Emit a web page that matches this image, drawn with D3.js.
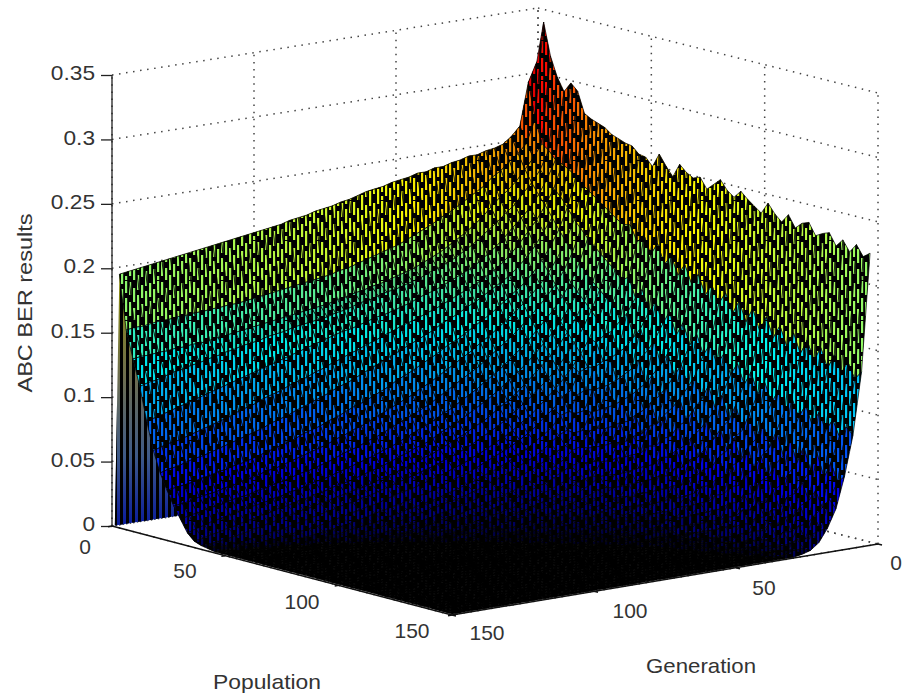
<!DOCTYPE html>
<html><head><meta charset="utf-8">
<script src="https://cdn.jsdelivr.net/npm/d3@7"></script>
<style>html,body{margin:0;padding:0;background:#fff}svg{display:block}text{font-family:"Liberation Sans",Arial,sans-serif;fill:#333}</style>
</head><body><div id="c"></div>
<script>
const populations=d3.range(2,150,3);
const generations=d3.range(2,150,3);
const zTicks=[0,0.05,0.1,0.15,0.2,0.25,0.3,0.35];
const zTickLabels=["0","0.05","0.1","0.15","0.2","0.25","0.3","0.35"];
const popTicks=[0,50,100,150];
const genTicks=[0,50,100,150];
const axisNames=["Population","Generation","ABC BER results"];
// BER in thousandths, one row per population, one column per generation; omitted trailing cells read as 0
const ber=[
[310,295,262,255,250,248,247,245,245,243,242,240,240,238,238,236,235,234,232,231,230,228,226,225,223,222,221,219,218,217,215,214,213,212,211,210,209,208,207,206,205,204,203,202,201,200,199,198,197,196],
[342,268,250,243,238,232,228,222,218,214,210,206,203,199,196,193,190,187,185,183,181,179,177,175,174,172,171,170,169,168,167,166,165,164,163,162,161,161,160,160,159,159,158,158,157,157,156,155,155,154],
[317,250,240,232,224,218,213,207,200,195,190,186,182,178,175,172,169,167,165,163,161,160,158,157,155,154,152,151,150,149,148,147,146,145,144,143,142,141,140,139,138,137,137,136,136,135,135,134,134,133],
[302,246,232,223,216,208,203,197,192,187,182,178,174,171,168,166,163,161,159,157,156,154,152,151,149,147,146,144,143,142,141,140,138,137,136,134,133,132,130,129,127,126,124,123,121,120,118,116,115,113],
[292,240,226,215,206,199,193,186,180,175,170,166,163,160,157,154,152,150,147,145,143,141,140,138,136,134,133,131,129,127,125,123,121,119,117,115,113,111,109,107,105,103,101,99,97,95,93,91,89,88],
[300,238,220,208,198,190,182,175,169,164,160,156,153,150,147,144,141,139,136,134,132,129,127,124,122,119,117,114,112,109,107,104,102,100,97,95,93,90,88,86,83,81,79,77,75,73,71,70,68,66],
[295,235,215,200,190,180,172,166,160,156,152,148,144,141,137,134,131,127,124,121,118,115,112,109,106,103,100,97,95,92,89,87,84,82,79,77,75,72,70,68,66,64,62,60,58,57,55,53,52,50],
[279,231,208,192,180,170,162,155,150,145,140,135,131,127,123,119,116,112,108,105,101,98,95,91,88,85,82,80,77,74,72,69,67,65,62,60,58,56,54,52,50,49,47,46,44,43,41,40,39,38],
[276,226,200,184,172,162,154,147,141,135,130,125,120,116,111,107,103,99,95,91,88,84,81,78,75,72,69,66,64,61,59,56,54,52,50,48,46,44,43,41,39,38,36,35,33,32,31,29,28,27],
[274,222,194,177,164,154,146,139,132,126,120,115,110,105,100,96,92,88,84,80,76,73,70,67,64,61,58,56,53,51,49,46,44,42,40,39,37,35,34,32,31,29,28,27,25,24,23,21,20,18],
[272,218,188,170,156,146,137,130,123,116,110,105,99,94,90,85,81,77,73,70,66,63,60,57,54,51,49,46,44,42,40,38,36,34,33,31,29,28,26,25,23,22,21,19,18,16,15,13,11,9],
[268,214,183,164,150,139,129,121,114,107,101,95,90,85,80,76,72,68,64,61,58,54,51,49,46,44,41,39,37,35,33,31,30,28,26,25,23,22,20,19,17,16,14,13,11,10,8,7,5,4],
[266,210,178,158,144,132,122,113,106,99,93,87,81,76,72,67,63,60,56,53,50,47,44,42,39,37,35,33,31,29,27,26,24,23,21,20,18,17,15,14,12,11,9,8,6,5,4,3,2,2],
[264,206,173,153,138,125,115,106,98,91,85,79,74,69,64,60,56,53,49,46,43,41,38,36,34,32,30,28,26,24,22,21,19,18,16,15,13,12,10,9,7,6,5,4,3,2,2,1,1,1],
[263,203,169,148,132,119,108,99,91,84,78,72,66,62,57,53,50,46,43,40,37,35,32,30,28,26,24,23,21,19,17,16,14,13,11,10,8,7,6,5,4,3,2,2,1,1,1],
[258,204,162,147,122,117,99,96,83,79,71,66,60,55,51,47,44,41,38,35,32,30,28,25,23,21,20,18,16,15,13,12,10,9,7,6,5,4,3,2,2,1,1,1],
[257,192,166,133,126,104,100,84,81,69,67,59,54,50,45,42,38,35,32,30,27,25,23,21,19,17,16,14,13,11,10,8,7,6,5,4,3,2,2,1,1],
[251,199,151,140,111,107,86,85,70,69,57,54,49,44,40,37,34,31,28,26,23,21,19,17,16,14,13,11,10,8,7,6,5,4,3,2,2,1,1],
[262,185,159,123,116,92,89,71,70,57,56,47,44,40,36,33,30,27,24,22,20,18,16,14,13,11,10,8,7,6,5,4,3,2,2,1,1],
[254,195,143,131,101,97,75,74,59,58,47,45,39,35,32,29,26,23,21,19,17,15,13,12,10,9,8,6,5,4,3,2,2,1,1],
[247,180,152,115,109,82,80,61,60,47,47,37,35,32,28,25,23,20,18,16,14,12,11,9,8,7,6,5,4,3,2,2,1,1],
[258,188,136,124,92,88,65,65,50,49,38,38,32,28,25,22,20,17,15,13,12,10,9,8,6,5,4,3,3,2,1,1],
[253,174,147,107,100,74,71,52,52,39,39,29,28,25,22,19,17,15,13,11,10,8,7,6,5,4,3,2,2,1,1],
[250,184,130,117,85,81,58,57,42,42,30,30,25,22,19,17,15,13,11,9,8,7,6,4,4,3,2,2,1,1],
[252,170,141,101,93,66,65,45,45,32,32,23,22,19,17,15,13,11,9,8,6,5,4,3,3,2,1,1],
[244,179,125,111,79,74,51,52,36,35,24,24,20,17,15,13,11,9,8,6,5,4,3,2,2,1,1],
[249,164,135,95,87,59,58,39,39,27,27,18,18,15,13,11,9,8,6,5,4,3,2,2,1,1],
[254,173,120,105,71,68,45,46,30,30,19,20,16,13,11,9,8,6,5,4,3,2,2,1,1],
[247,160,130,88,81,54,52,33,34,22,23,14,14,11,9,8,6,5,4,3,2,2,1,1],
[243,170,115,100,67,62,40,40,25,26,15,16,12,10,8,6,5,4,3,2,2,1,1],
[249,155,125,83,75,48,47,28,29,18,18,11,10,8,7,5,4,3,2,2,1,1],
[244,166,110,95,62,56,36,35,21,22,12,12,9,7,5,4,3,2,2,1,1],
[240,151,120,77,71,43,42,25,24,16,14,8,8,6,4,3,2,2,1,1],
[236,163,105,90,56,52,31,31,18,18,10,10,6,5,3,2,2,1,1],
[245,147,116,72,67,38,38,21,21,12,12,6,5,4,3,2,1,1],
[238,159,100,86,51,48,27,27,15,15,7,8,4,3,2,1,1],
[233,144,111,68,62,34,34,18,18,9,10,4,3,2,2,1,1],
[240,155,96,82,47,44,23,24,12,12,5,5,3,2,1,1],
[231,140,107,64,58,30,31,15,15,7,7,3,2,2,1],
[236,152,93,78,43,41,20,21,9,10,3,4,2,1,1],
[238,137,104,60,54,26,28,12,12,4,5,2,2,1],
[229,149,90,74,40,37,17,18,7,7,2,3,1,1],
[232,134,101,57,50,23,24,9,10,3,3,2,1],
[234,146,87,71,36,34,13,16,4,5,2,1,1],
[225,131,98,54,46,20,21,6,6,2,2,1],
[231,143,85,68,33,30,11,12,3,3,1,1],
[223,130,95,51,42,17,17,4,4,1,1],
[230,140,83,64,30,25,8,9,2,2,1],
[222,128,92,50,38,15,13,3,3,1],
[226,135,87,56,32,18,8,3,1]
];
const berUnit=0.001, zMax=0.34;

const W=902,H=697;
const svg=d3.select("#c").append("svg").attr("width",W).attr("height",H).attr("viewBox",[0,0,W,H]);
const defs=svg.append("defs");

const pS=d3.scaleLinear().domain([0,150]).range([0,1]);
const gS=d3.scaleLinear().domain([0,150]).range([0,1]);
const zS=d3.scaleLinear().domain([0,0.35]).range([0,451]);
const cD=[538,459],cA=[112,526],cC=[878,544],cB=[452,615];
function proj(p,g,z){
  const u=pS(p),v=gS(g);
  const x=(1-u)*(1-v)*cD[0]+(1-u)*v*cA[0]+u*(1-v)*cC[0]+u*v*cB[0];
  const y=(1-u)*(1-v)*cD[1]+(1-u)*v*cA[1]+u*(1-v)*cC[1]+u*v*cB[1];
  return [x,y-zS(z)];
}
const jet=d3.scaleLinear().domain([0,.125,.375,.625,.875,1].map(d=>d*zMax))
  .range(["#00008f","#0000ff","#00ffff","#ffff00","#ff0000","#800000"]).clamp(true);
const line=d3.line();

// dotted grid on the back walls and floor
const grid=svg.append("g").attr("fill","none").attr("stroke","#444").attr("stroke-width",1.5)
  .attr("stroke-dasharray","1.5 5.6");
const seg=(a,b)=>grid.append("path").attr("d",line([a,b]));
zTicks.forEach(z=>{seg(proj(0,150,z),proj(0,0,z));seg(proj(0,0,z),proj(150,0,z));});
genTicks.forEach(g=>{seg(proj(0,g,0),proj(0,g,.35));seg(proj(0,g,0),proj(150,g,0));});
popTicks.forEach(p=>{seg(proj(p,0,0),proj(p,0,.35));seg(proj(p,0,0),proj(p,150,0));});

// patterns standing in for the dense mesh lines
const slots=[[1,[[2,15],[22,36]]],[5,[[8,22],[28,40]]],[9,[[0,10],[15,30],[35,40]]],[13,[[5,18],[24,37]]],
  [17,[[0,6],[11,26],[31,40]]],[21,[[3,17],[21,34]]],[25,[[0,4],[9,23],[29,40]]],[29,[[1,13],[18,32],[36,40]]]];
const slotPath=slots.flatMap(([x,segs])=>segs.map(([a,b])=>`M${x} ${a}V${b}H${x+2.2}V${a}Z`)).join("");
const bars=defs.append("pattern").attr("id","bars").attr("patternUnits","userSpaceOnUse")
  .attr("width",32).attr("height",40);
bars.append("path").attr("fill","#000").attr("fill-rule","evenodd").attr("d","M0 0H32V40H0Z"+slotPath);
const wb=defs.append("pattern").attr("id","wallbars").attr("patternUnits","userSpaceOnUse")
  .attr("width",6).attr("height",10);
wb.append("rect").attr("x",0).attr("width",3).attr("height",10).attr("fill","#000");
const wg=defs.append("linearGradient").attr("id","wallgrad").attr("gradientUnits","userSpaceOnUse")
  .attr("x1",0).attr("x2",0).attr("y1",280).attr("y2",525);
[[0,"#8c8c10"],[.4,"#6e6e50"],[.72,"#3e5a88"],[1,"#0a1c9c"]].forEach(s=>
  wg.append("stop").attr("offset",s[0]).attr("stop-color",s[1]));

// rear wall between the zero column and the first population
const firstRow=ber[0];
const wallPts=generations.map((g,j)=>proj(populations[0],g,firstRow[j]*berUnit))
  .concat(generations.slice().reverse().map(g=>proj(0,g,0)));
const wall=line(wallPts)+"Z";
svg.append("path").attr("d",wall).attr("fill","url(#wallgrad)");
svg.append("path").attr("d",wall).attr("fill","url(#wallbars)");

// surface cells
const zAt=(i,j)=>((ber[i][j]??0)*berUnit);
const cells=[];
for(let i=0;i<populations.length-1;i++)for(let j=0;j<generations.length-1;j++){
  const corners=[[i,j],[i+1,j],[i+1,j+1],[i,j+1]];
  const pts=corners.map(([a,b])=>proj(populations[a],generations[b],zAt(a,b)));
  const zm=d3.mean(corners,([a,b])=>zAt(a,b));
  const fine=Math.abs(d3.polygonArea(pts))/9;
  const cov=Math.max(0,Math.min(1,(fine-3.2)/(fine-1.2)));
  const c=d3.rgb(jet(zm));
  cells.push({pts,fill:d3.rgb(c.r*cov,c.g*cov,c.b*cov).formatHex()});
}
svg.append("g").selectAll("path").data(cells).join("path")
  .attr("d",d=>line(d.pts)+"Z").attr("fill",d=>d.fill)
  .attr("stroke","#000").attr("stroke-width",0.7);
svg.append("path").attr("d",cells.map(d=>line(d.pts)+"Z").join(""))
  .attr("fill","url(#bars)").attr("fill-rule","nonzero");

// text is slightly stretched in the reference
const fitLen=(sel,len)=>sel.attr("textLength",len).attr("lengthAdjust","spacingAndGlyphs");
const stretch=(sel,k)=>sel.each(function(){
  d3.select(this).call(fitLen,this.getComputedTextLength()*k);});

// axes
const zAxisScale=d3.scaleLinear().domain([0,0.35]).range([cA[1],cA[1]-451]);
const zAxis=d3.axisLeft(zAxisScale).tickValues(zTicks).tickSize(11).tickPadding(6)
  .tickFormat((d,i)=>zTickLabels[i]);
const zg=svg.append("g").attr("transform",`translate(${cA[0]},0)`).call(zAxis);
zg.selectAll("path,line").attr("stroke","#222").attr("stroke-width",1.3);
zg.select(".domain").attr("d",`M0,${cA[1]}V${cA[1]-451}`);
zg.selectAll("text").attr("font-size",21).attr("fill","#333").attr("font-family","Liberation Sans")
  .attr("dy","0.22em").call(stretch,1.08);

const ax=svg.append("g").attr("stroke","#111").attr("stroke-width",1.5).attr("fill","none");
ax.append("path").attr("d",line([cA,cB]));
ax.append("path").attr("d",line([cB,cC]));
popTicks.forEach(p=>{const a=proj(p,150,0);ax.append("path").attr("d",line([a,[a[0]-4,a[1]+0.7]]));});
genTicks.forEach(g=>{const a=proj(150,g,0);ax.append("path").attr("d",line([a,[a[0]+4,a[1]+1]]));});

const popLabelPos=[[85,546],[185,570],[302,601],[412,630]];
const genLabelPos=[[896,562],[764,587],[630,610],[487,632]];
const tick=(t,[x,y])=>svg.append("text").attr("x",x).attr("y",y).attr("text-anchor","middle")
  .attr("dominant-baseline","central").attr("font-size",21).text(t).call(stretch,1.0);
popTicks.forEach((t,i)=>tick(t,popLabelPos[i]));
genTicks.forEach((t,i)=>tick(t,genLabelPos[i]));

const nameStyle=s=>s.attr("text-anchor","middle").attr("dominant-baseline","central").attr("font-size",21);
svg.append("text").attr("x",267).attr("y",681).call(nameStyle).text(axisNames[0]).call(fitLen,108);
svg.append("text").attr("x",701).attr("y",665).call(nameStyle).text(axisNames[1]).call(fitLen,110);
svg.append("text").attr("transform","translate(24,303) rotate(-90)").call(nameStyle).text(axisNames[2]).call(fitLen,179);
</script></body></html>
